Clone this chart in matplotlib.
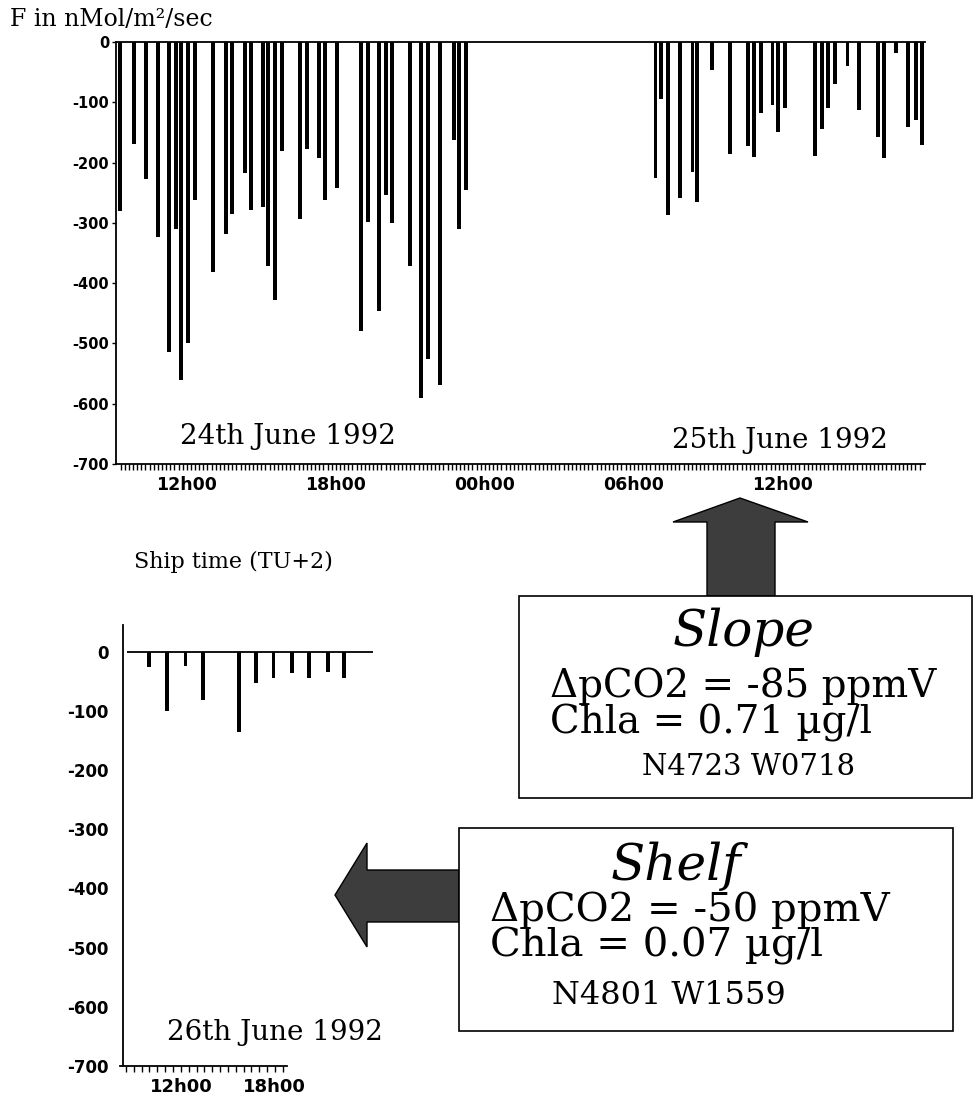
import matplotlib
matplotlib.use("Agg")
import matplotlib.pyplot as plt
from matplotlib.patches import Polygon, Rectangle
from matplotlib.ticker import FixedLocator, NullFormatter

W, H = 974, 1099

# ---------------- data ----------------
# Top panel: time in hours since 24 June 1992 00h00 (ship time), flux F in nMol/m2/sec
top_hours = [9.30, 9.87, 10.35, 10.83, 11.28, 11.56, 11.76, 12.04, 12.32, 13.05,
             13.57, 13.81, 14.33, 14.58, 15.06, 15.26, 15.54, 15.82, 16.55, 16.83,
             17.31, 17.55, 18.04, 19.00, 19.28, 19.73, 20.01, 20.25, 20.97, 21.42,
             21.70, 22.18, 22.74, 22.95, 23.23,
             30.87, 31.11, 31.36, 31.84, 32.36, 32.56, 33.13, 33.85, 34.58, 34.82,
             35.10, 35.58, 35.82, 36.10, 37.31, 37.59, 37.83, 38.08, 38.60, 39.08,
             39.81, 40.05, 40.57, 41.05, 41.34, 41.58]
top_flux = [-280, -170, -228, -324, -515, -311, -561, -499, -262, -381,
            -319, -286, -217, -278, -274, -372, -428, -181, -293, -178,
            -193, -262, -242, -479, -299, -446, -254, -301, -372, -591,
            -525, -569, -163, -310, -246,
            -226, -95, -287, -259, -215, -265, -46, -185, -172, -191,
            -118, -104, -150, -109, -189, -144, -110, -69, -40, -113,
            -157, -193, -19, -141, -129, -171]
top_tick_hours = [12, 18, 24, 30, 36]
top_tick_labels = ["12h00", "18h00", "00h00", "06h00", "12h00"]

# Bottom panel: 26 June 1992
bot_hours = [9.97, 11.12, 12.27, 13.41, 15.71, 16.80, 17.94, 19.09, 20.18, 21.39, 22.41]
bot_flux = [-26, -100, -24, -82, -136, -53, -44, -36, -44, -34, -44]
bot_tick_hours = [12, 18]
bot_tick_labels = ["12h00", "18h00"]

y_ticks = [0, -100, -200, -300, -400, -500, -600, -700]

# ---------------- figure ----------------
fig = plt.figure(figsize=(W / 100, H / 100), dpi=100)
fig.patch.set_facecolor("white")


def fpos(x, y):
    return (x / W, 1 - y / H)


def axrect(x0, y0, x1, y1):
    return [x0 / W, 1 - y1 / H, (x1 - x0) / W, (y1 - y0) / H]


sans_bold = dict(family="DejaVu Sans", weight="bold")
serif = "DejaVu Serif"

# ---- top panel ----
ax = fig.add_axes(axrect(116, 42, 925, 464))
ax.bar(top_hours, top_flux, width=0.16, color="black", align="center", zorder=2)
ax.set_xlim(9.15, 41.72)
ax.set_ylim(-700, 0)
ax.spines["right"].set_visible(False)
for s in ["top", "left", "bottom"]:
    ax.spines[s].set_linewidth(1.3)
ax.set_yticks(y_ticks)
ax.set_yticklabels([str(v) for v in y_ticks], fontsize=10.5, **sans_bold)
ax.tick_params(axis="y", direction="out", length=3, width=1, pad=2)
ax.xaxis.set_major_locator(FixedLocator(top_tick_hours))
ax.set_xticklabels(top_tick_labels, fontsize=12.5, **sans_bold)
minor = [9 + k / 6 for k in range(2, 200) if 9 + k / 6 <= 41.6]
ax.xaxis.set_minor_locator(FixedLocator(minor))
ax.xaxis.set_minor_formatter(NullFormatter())
ax.tick_params(axis="x", which="both", direction="out", length=4, width=1, pad=5)

fig.text(*fpos(10, 20), "F in nMol/m²/sec", family=serif, fontsize=17,
         ha="left", va="center")
fig.text(*fpos(180, 436), "24th June 1992", family=serif, fontsize=20,
         ha="left", va="center")
fig.text(*fpos(672, 441), "25th June 1992", family=serif, fontsize=20,
         ha="left", va="center")
fig.text(*fpos(233, 562), "Ship time (TU+2)", family=serif, fontsize=16,
         ha="center", va="center")

# ---- bottom panel ----
bx = fig.add_axes(axrect(122.7, 625, 375, 1066))
bx.bar(bot_hours, bot_flux, width=0.2, color="black", align="center", zorder=2)
bx.set_xlim(8.29, 24.39)
bx.set_ylim(-700, 45)
bx.hlines(0, 8.56, 24.26, color="black", lw=1.3, zorder=3)
bx.spines["top"].set_visible(False)
bx.spines["right"].set_visible(False)
bx.spines["left"].set_linewidth(1.3)
bx.spines["bottom"].set_linewidth(1.3)
bx.spines["bottom"].set_bounds(8.1, 18.75)
bx.set_yticks(y_ticks)
bx.set_yticklabels([str(v) for v in y_ticks], fontsize=12, **sans_bold)
bx.tick_params(axis="y", length=0, pad=10)
bx.xaxis.set_major_locator(FixedLocator(bot_tick_hours))
bx.set_xticklabels(bot_tick_labels, fontsize=13, **sans_bold)
bminor = [8.5 + k * 0.5 for k in range(21)]
bx.xaxis.set_minor_locator(FixedLocator(bminor))
bx.xaxis.set_minor_formatter(NullFormatter())
bx.tick_params(axis="x", which="both", direction="out", length=4, width=1, pad=5)

fig.text(*fpos(167, 1032), "26th June 1992", family=serif, fontsize=20,
         ha="left", va="center")

# ---- arrows ----
arrow_color = "#3d3d3d"
up = [(740, 498), (808, 522), (775, 522), (775, 596), (707, 596), (707, 522), (673, 522)]
fig.patches.append(Polygon([fpos(*p) for p in up], closed=True, transform=fig.transFigure,
                           facecolor=arrow_color, edgecolor="black", lw=1))
left = [(335, 895), (367, 843), (367, 870), (459, 870), (459, 922), (367, 922), (367, 947)]
fig.patches.append(Polygon([fpos(*p) for p in left], closed=True, transform=fig.transFigure,
                           facecolor=arrow_color, edgecolor="black", lw=1))

# ---- boxes ----
def box(x0, y0, x1, y1):
    fig.patches.append(Rectangle(fpos(x0, y1), (x1 - x0) / W, (y1 - y0) / H,
                                 transform=fig.transFigure, facecolor="white",
                                 edgecolor="black", lw=1.2))

box(519, 596, 972, 798)
box(459, 828, 953, 1031)

fig.text(*fpos(744, 632), "Slope", family=serif, style="italic", fontsize=36,
         ha="center", va="center")
fig.text(*fpos(550, 686), "ΔpCO2 = -85 ppmV", family=serif, fontsize=28,
         ha="left", va="center")
fig.text(*fpos(550, 723), "Chla = 0.71 µg/l", family=serif, fontsize=28,
         ha="left", va="center")
fig.text(*fpos(749, 767), "N4723 W0718", family=serif, fontsize=21,
         ha="center", va="center")

fig.text(*fpos(676, 866), "Shelf", family=serif, style="italic", fontsize=36,
         ha="center", va="center")
fig.text(*fpos(490, 910), "ΔpCO2 = -50 ppmV", family=serif, fontsize=29,
         ha="left", va="center")
fig.text(*fpos(490, 946), "Chla = 0.07 µg/l", family=serif, fontsize=29,
         ha="left", va="center")
fig.text(*fpos(669, 996), "N4801 W1559", family=serif, fontsize=23,
         ha="center", va="center")

fig.savefig("out.png", dpi=100, facecolor="white")
